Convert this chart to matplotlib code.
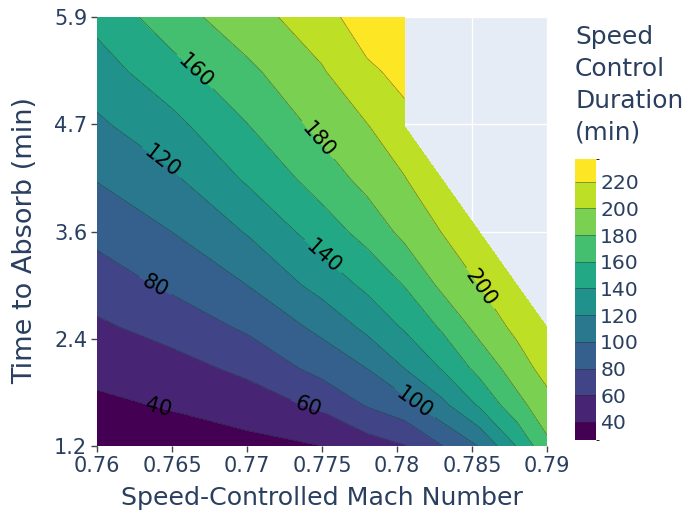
import numpy as np
import matplotlib.pyplot as plt
from matplotlib.colors import ListedColormap, BoundaryNorm

plt.rcParams['font.family'] = ['DejaVu Sans']

# grille des mesures (x = Mach, y = temps d'absorption)
mach = [0.76, 0.765, 0.77, 0.775, 0.778, 0.7805, 0.783, 0.7855, 0.788, 0.79]
absorb = [1.2, 1.65, 2.05, 2.5, 2.96, 3.54, 4.12, 4.7, 5.3, 5.9]
nan = np.nan
# une ligne par valeur de absorb (du bas vers le haut), une colonne par mach
duration = [
    [26.5, 29.3, 34.1, 40.0, 50.5, 59.2, 79.5, 101.0, 141.0, 175.4],
    [36.0, 41.8, 49.7, 63.8, 81.6, 92.8, 114.9, 142.6, 173.6, 192.5],
    [45.8, 52.8, 64.4, 86.8, 100.1, 120.1, 141.2, 166.3, 189.9, 207.8],
    [56.7, 67.3, 83.1, 104.9, 124.7, 142.2, 162.5, 186.4, 204.9, 217.0],
    [69.3, 83.6, 99.9, 127.3, 144.1, 160.7, 184.1, 200.1, 218.0, nan],
    [85.4, 99.9, 121.1, 149.8, 166.7, 185.0, 200.3, 217.2, nan, nan],
    [100.8, 116.4, 142.4, 168.8, 186.2, 198.9, 216.6, nan, nan, nan],
    [116.1, 133.8, 158.9, 185.6, 199.0, 213.2, nan, nan, nan, nan],
    [131.0, 152.5, 175.5, 198.3, 215.7, 226.5, nan, nan, nan, nan],
    [145.6, 171.4, 192.1, 211.0, 233.0, 237.0, nan, nan, nan, nan],
]

contour_levels = [40, 60, 80, 100, 120, 140, 160, 180, 200, 220]
x_ticks = [0.76, 0.765, 0.77, 0.775, 0.78, 0.785, 0.79]
x_ticklabels = ["0.76", "0.765", "0.77", "0.775", "0.78", "0.785", "0.79"]
y_ticks = [1.2, 2.375, 3.55, 4.725, 5.9]
y_ticklabels = ["1.2", "2.4", "3.6", "4.7", "5.9"]

# positions des etiquettes sur les courbes
label_pos = [(0.76407, 1.62), (0.77407, 1.63), (0.7640, 2.99), (0.78133, 1.70),
             (0.7642, 4.28), (0.77487, 3.24), (0.7662, 5.24), (0.77473, 4.55),
             (0.7854, 2.91)]

txt = '#2a3f5f'

Z = np.ma.masked_invalid(np.array(duration))
X, Y = np.meshgrid(mach, absorb)
bounds = [float(Z.min())] + contour_levels + [float(Z.max())]
cmap = ListedColormap(plt.cm.viridis(np.linspace(0, 1, len(bounds) - 1)))
norm = BoundaryNorm(bounds, cmap.N)

fig = plt.figure(figsize=(6.86, 5.14), dpi=100)
ax = fig.add_axes([97/686, 1 - 446/514, 450/686, 429/514])
ax.set_facecolor('#E5ECF6')
ax.set_axisbelow(True)
ax.grid(color='white', lw=1)

cf = ax.contourf(X, Y, Z, levels=bounds, cmap=cmap, norm=norm)
cs = ax.contour(X, Y, Z, levels=contour_levels, colors=[(0.15, 0.15, 0.15, 0.55)], linewidths=0.5)
ax.clabel(cs, levels=contour_levels[:-1], manual=label_pos, inline=True,
          inline_spacing=5, fontsize=15, colors='black', fmt='%d')

ax.set_xlim(0.76, 0.79)
ax.set_ylim(1.2, 5.9)
ax.set_xticks(x_ticks, x_ticklabels)
ax.set_yticks(y_ticks, y_ticklabels)
ax.tick_params(colors='#444444', labelcolor=txt, labelsize=15, length=4, width=1, pad=3)
for s in ax.spines.values():
    s.set_visible(False)
ax.set_xlabel("Speed-Controlled Mach Number", fontsize=18.2, color=txt)
ax.xaxis.set_label_coords(0.5, -(505 - 446) / 429, transform=ax.transAxes)
ax.xaxis.label.set_va('baseline')
ax.set_ylabel("Time to Absorb (min)", fontsize=19.5, color=txt)
ax.yaxis.set_label_coords(-(97 - 38) / 450, (446 - 240) / 429)

cax = fig.add_axes([575/686, 1 - 440/514, 21/686, 281/514])
cb = fig.colorbar(cf, cax=cax, ticks=contour_levels, spacing='proportional')
cb.outline.set_visible(False)
cb.add_lines(cs)
cb.ax.tick_params(length=0, labelsize=14.7, labelcolor=txt, pad=3)
fig.text(575/686, 1 - 25/514, "Speed\nControl\nDuration\n(min)", fontsize=17.9,
         color=txt, va='top', ha='left', linespacing=1.42)

fig.savefig("out.png", dpi=100)
